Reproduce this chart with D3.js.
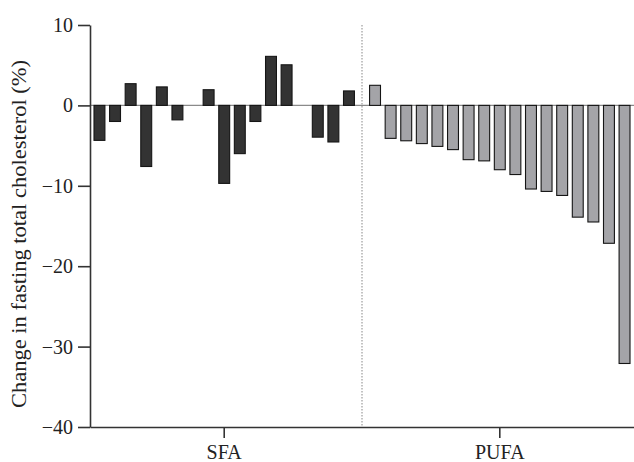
<!DOCTYPE html>
<html>
<head>
<meta charset="utf-8">
<script src="https://cdn.jsdelivr.net/npm/d3@7"></script>
<style>
  body { margin: 0; background: #fff; }
  text { font-family: "Liberation Serif", "Times New Roman", serif; }
</style>
</head>
<body>
<div id="chart"></div>
<script>
// data
let groups = ["SFA", "PUFA"];
let sfaValues = [-4.35, -2.0, 2.7, -7.6, 2.3, -1.8, 0, 1.95, -9.7, -6.0, -2.0, 6.1, 5.05, 0, -3.95, -4.55, 1.8];
let pufaValues = [2.5, -4.1, -4.4, -4.75, -5.1, -5.5, -6.75, -6.9, -8.0, -8.6, -10.4, -10.7, -11.2, -13.9, -14.5, -17.15, -32.1];
let yTicks = [-40, -30, -20, -10, 0, 10];
let yLabel = "Change in fasting total cholesterol (%)";

let fills = {SFA: "#333333", PUFA: "#a4a4a8"};

// set the dimensions and margins of the graph
let margin = {top: 25, right: 0, bottom: 35, left: 90},
    width = 634 - margin.left - margin.right,
    height = 462 - margin.top - margin.bottom;

// set the ranges
let x0 = d3.scaleBand()
    .domain(groups)
    .range([0, width])
    .paddingInner(0.038)
    .paddingOuter(0.006);

let x1 = d3.scaleBand()
    .domain(d3.range(sfaValues.length))
    .range([0, x0.bandwidth()])
    .paddingInner(0.3)
    .paddingOuter(0.15);

let y = d3.scaleLinear()
    .domain([-40, 10])
    .range([height, 0]);

let svg = d3.select("#chart").append("svg")
    .attr("width", width + margin.left + margin.right)
    .attr("height", height + margin.top + margin.bottom)
    .append("g")
    .attr("transform", "translate(" + margin.left + "," + margin.top + ")");

// flatten to one list of bars
let bars = [];
sfaValues.forEach((v, i) => bars.push({group: "SFA", i: i, value: v}));
pufaValues.forEach((v, i) => bars.push({group: "PUFA", i: i, value: v}));

// zero line
svg.append("line")
    .attr("x1", 0)
    .attr("x2", width)
    .attr("y1", y(0))
    .attr("y2", y(0))
    .attr("stroke", "#8a8a8a")
    .attr("stroke-width", 1.2);

// dotted divider between groups
let divX = (x0("SFA") + x0.bandwidth() + x0("PUFA")) / 2;
svg.append("line")
    .attr("x1", divX)
    .attr("x2", divX)
    .attr("y1", 0)
    .attr("y2", height)
    .attr("stroke", "#b0b0b0")
    .attr("stroke-width", 1.5)
    .attr("stroke-dasharray", "1.5,1.5");

// bars
svg.selectAll(".bar")
    .data(bars)
    .enter()
    .append("rect")
    .attr("class", "bar")
    .attr("x", d => x0(d.group) + x1(d.i))
    .attr("width", x1.bandwidth())
    .attr("y", d => y(Math.max(0, d.value)))
    .attr("height", d => Math.abs(y(d.value) - y(0)))
    .attr("fill", d => fills[d.group])
    .attr("stroke", "#151515")
    .attr("stroke-width", 1.1);

// add y-axis
let yAxis = svg.append("g")
    .call(d3.axisLeft(y)
        .tickValues(yTicks)
        .tickSize(12)
        .tickSizeOuter(0)
        .tickPadding(5));

// add x-axis
let xAxis = svg.append("g")
    .attr("transform", "translate(0," + height + ")")
    .call(d3.axisBottom(x0)
        .tickSize(11)
        .tickSizeOuter(0)
        .tickPadding(7));

[yAxis, xAxis].forEach(function(a) {
    a.select(".domain").attr("stroke", "#333").attr("stroke-width", 1.6);
    a.selectAll(".tick line").attr("stroke", "#333").attr("stroke-width", 1.6);
    a.selectAll(".tick text")
        .attr("fill", "#222")
        .style("font-family", "'Liberation Serif', serif")
        .style("font-size", "20px");
});

// text label for the y axis
svg.append("text")
    .attr("transform", "rotate(-90)")
    .attr("x", 0 - (234 - margin.top))
    .attr("y", 26 - margin.left)
    .style("text-anchor", "middle")
    .attr("textLength", 348)
    .attr("lengthAdjust", "spacingAndGlyphs")
    .attr("fill", "#222")
    .style("font-size", "20px")
    .text(yLabel);
</script>
</body>
</html>
